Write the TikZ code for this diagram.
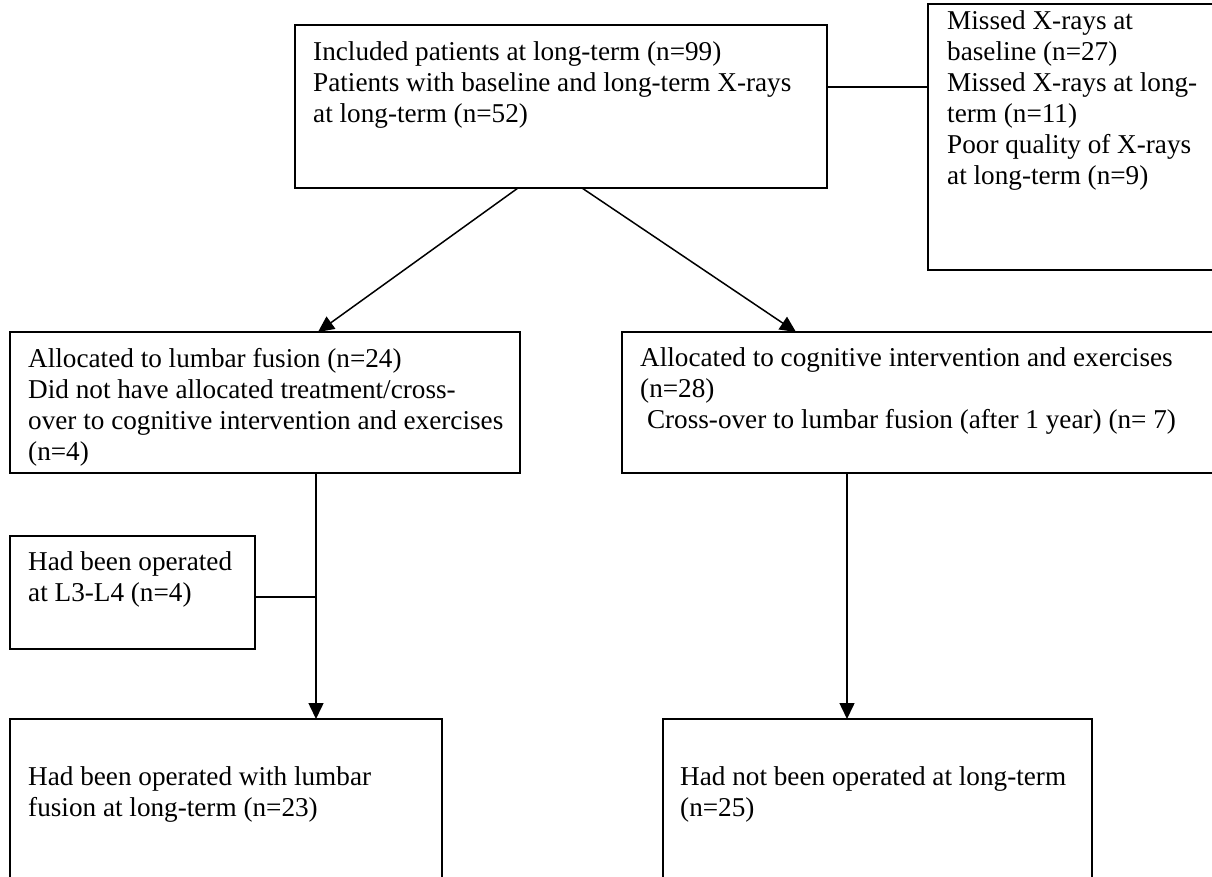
\documentclass[tikz,border=0pt]{standalone}
\usepackage{fontspec}
\setmainfont{Liberation Serif}
\usetikzlibrary{arrows.meta}
\begin{document}
\begin{tikzpicture}[x=1pt,y=-1pt,
 box/.style={draw, line width=1.5pt, inner sep=0pt, outer sep=0pt, anchor=north west},
 txt/.style={anchor=base west, align=left, inner sep=0pt, font=\fontsize{27.2}{31}\selectfont},
 conn/.style={line width=1.5pt},
 arr/.style={conn, -{Triangle[length=16pt,width=15pt]}}]
\useasboundingbox (0,0) rectangle (1212,876);
\clip (0,0) rectangle (1212,876);
\fill[white] (0,0) rectangle (1212,876);
% boxes
\node[box, minimum width=532pt, minimum height=163pt] (top) at (295,25) {};
\node[box, minimum width=310pt, minimum height=266pt] (excl) at (928,4) {};
\node[box, minimum width=510pt, minimum height=141pt] (lf) at (10,332) {};
\node[box, minimum width=610pt, minimum height=141pt] (ci) at (622,332) {};
\node[box, minimum width=245pt, minimum height=113pt] (l34) at (10,536) {};
\node[box, minimum width=432pt, minimum height=200pt] (bl) at (10,719) {};
\node[box, minimum width=429pt, minimum height=200pt] (br) at (663,719) {};
% texts (anchored at the baseline of their last line)
\node[txt] (ttop) at (313,122) {Included patients at long-term (n=99)\\Patients with baseline and long-term X-rays\\at long-term (n=52)};
\node[txt] (texcl) at (947,184) {Missed X-rays at\\baseline (n=27)\\Missed X-rays at long-\\term (n=11)\\Poor quality of X-rays\\at long-term (n=9)};
\node[txt] (tlf) at (28,460) {Allocated to lumbar fusion (n=24)\\Did not have allocated treatment/cross-\\over to cognitive intervention and exercises\\(n=4)};
\node[txt] (tci) at (640,428) {Allocated to cognitive intervention and exercises\\(n=28)\\\hspace*{0.25em}Cross-over to lumbar fusion (after 1 year) (n=~7)};
\node[txt] (tl34) at (28,601) {Had been operated\\at L3-L4 (n=4)};
\node[txt] (tbl) at (28,816) {Had been operated with lumbar\\fusion at long-term (n=23)};
\node[txt] (tbr) at (680,816) {Had not been operated at long-term\\(n=25)};
% connectors
\draw[conn] ([yshift=19.5pt]top.east) -- ([yshift=19.5pt]top.east -| excl.west);
\draw[arr] ([xshift=223pt]top.south west) -- ([xshift=308pt]lf.north west);
\draw[arr] ([xshift=287pt]top.south west) -- ([xshift=174pt]ci.north west);
\coordinate (j) at ([xshift=306pt]lf.south west);
\draw[arr] (j) -- (j |- bl.north);
\draw[conn] ([yshift=-4.5pt]l34.east) -- ([yshift=-4.5pt]l34.east -| j);
\draw[arr] ([xshift=225pt]ci.south west) -- ([xshift=184pt]br.north west);
\end{tikzpicture}
\end{document}
